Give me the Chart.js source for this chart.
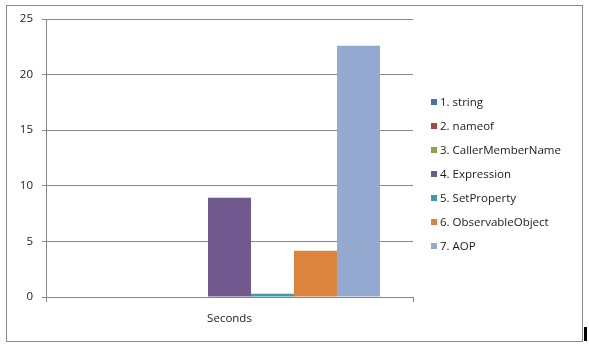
<!DOCTYPE html>
<html>
<head>
<meta charset="utf-8">
<script src="https://cdn.jsdelivr.net/npm/chart.js@4.4.1/dist/chart.umd.min.js"></script>
<style>
    html, body { margin: 0; padding: 0; background: #fff; }
    #wrap { position: relative; width: 589px; height: 353px; }
    #chart { position: absolute; left: 0; top: 0; }
    #frame { position: absolute; left: 6px; top: 5px; width: 575px; height: 335px;
             border: 1px solid #8a8a8a; pointer-events: none; }
    #cursor { position: absolute; left: 584px; top: 327px; width: 3px; height: 14px; background: #000; }
</style>
</head>
<body>
<div id="wrap">
    <canvas id="chart" width="589" height="353"></canvas>
    <div id="frame"></div>
    <div id="cursor"></div>
</div>
<script>
// data
const categories = ['Seconds'];
const seriesNames = ['1. string', '2. nameof', '3. CallerMemberName', '4. Expression',
                     '5. SetProperty', '6. ObservableObject', '7. AOP'];
const seriesValues = [[0], [0], [0], [8.92], [0.3], [4.16], [22.6]];
const seriesColors = ['#4572A7', '#AA4643', '#89A54E', '#71588F', '#4198AF', '#DB843D', '#93A9CF'];
const yTicks = [0, 5, 10, 15, 20, 25];

const font = "'Open Sans', Lato, sans-serif";
const gridColor = '#868686';
const textColor = '#1a1a1a';

// legend drawn at a fixed spot right of the plot
const sideLegend = {
    id: 'sideLegend',
    afterDraw(chart) {
        const ctx = chart.ctx;
        ctx.save();
        ctx.font = '11.5px ' + font;
        ctx.textBaseline = 'middle';
        chart.data.datasets.forEach((ds, i) => {
            const y = 102 + i * 24;
            ctx.fillStyle = ds.backgroundColor;
            ctx.fillRect(431, y - 3, 6, 6);
            ctx.fillStyle = textColor;
            ctx.fillText(ds.label, 440, y + 0.5);
        });
        ctx.restore();
    }
};

new Chart(document.getElementById('chart').getContext('2d'), {
    type: 'bar',
    data: {
        labels: categories,
        datasets: seriesNames.map((name, i) => ({
            label: name,
            data: seriesValues[i],
            backgroundColor: seriesColors[i],
            borderWidth: 0,
            barPercentage: 1,
            categoryPercentage: 0.82
        }))
    },
    options: {
        responsive: false,
        animation: false,
        layout: { padding: { left: 0, right: 176, top: 19, bottom: 0 } },
        plugins: {
            legend: { display: false },
            tooltip: { enabled: false }
        },
        scales: {
            x: {
                grid: { drawOnChartArea: false, color: gridColor, tickLength: 5 },
                border: { color: gridColor },
                ticks: { color: textColor, font: { family: font, size: 11.5 }, padding: 10 },
                afterFit(scale) { scale.height = 56; }
            },
            y: {
                min: 0,
                max: 25,
                afterBuildTicks(scale) { scale.ticks = yTicks.map(v => ({ value: v })); },
                grid: { color: gridColor, tickLength: 4 },
                border: { color: gridColor },
                ticks: { color: textColor, font: { family: font, size: 11.5 }, padding: 9 },
                afterFit(scale) { scale.width = 46; }
            }
        }
    },
    plugins: [sideLegend]
});
</script>
</body>
</html>
